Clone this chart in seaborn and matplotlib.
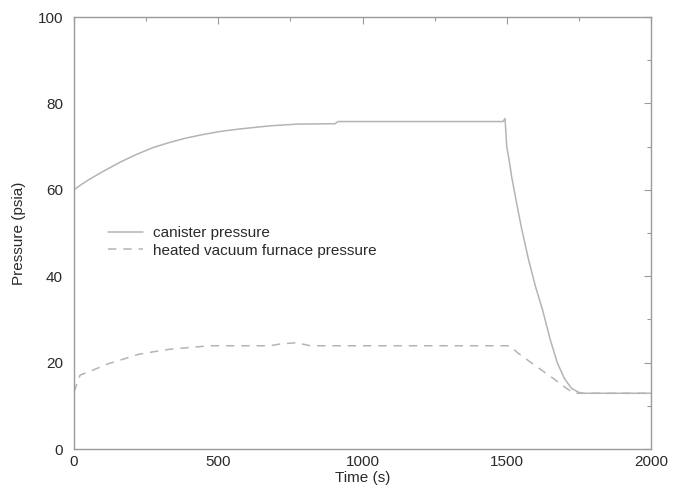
import matplotlib
matplotlib.use("Agg")
import matplotlib.pyplot as plt
import seaborn as sns
import pandas as pd
from matplotlib.ticker import MultipleLocator
from matplotlib.lines import Line2D

# ---- data ----
canister_time = [0, 25, 50, 102, 160, 217, 275, 333, 390, 448, 506, 564, 620, 679, 772,
                 905, 915, 1000, 1200, 1487, 1494, 1500, 1508, 1517, 1534, 1550, 1575,
                 1600, 1625, 1650, 1675, 1700, 1725, 1750, 1765, 2000]
canister_p = [60.0, 61.2, 62.3, 64.3, 66.4, 68.2, 69.8, 71.0, 72.0, 72.8, 73.5, 74.0,
              74.4, 74.8, 75.2, 75.3, 75.8, 75.8, 75.8, 75.8, 76.5, 70.0, 67.0, 63.0,
              57.0, 51.5, 44.0, 37.5, 32.0, 25.5, 20.0, 16.3, 14.0, 13.1, 12.9, 12.9]

furnace_time = [0, 15, 21, 67, 113, 171, 223, 275, 333, 437, 470, 680, 714, 772, 818,
                1511, 1539, 1603, 1660, 1708, 1730, 1750, 2000]
furnace_p = [13.2, 16.0, 17.1, 18.3, 19.6, 20.8, 21.9, 22.5, 23.1, 23.7, 23.9, 23.9,
             24.3, 24.6, 23.9, 23.9, 22.2, 19.1, 16.4, 14.0, 13.0, 12.9, 12.9]

series_names = ["canister pressure", "heated vacuum furnace pressure"]
x_ticks = [0, 500, 1000, 1500, 2000]
y_ticks = [0, 20, 40, 60, 80, 100]

df = pd.concat([
    pd.DataFrame({"t": canister_time, "p": canister_p, "series": series_names[0]}),
    pd.DataFrame({"t": furnace_time, "p": furnace_p, "series": series_names[1]}),
], ignore_index=True)

sns.set_style("white")
plt.rcParams["font.family"] = ["Liberation Sans", "DejaVu Sans"]

LINE = "#b4b4b4"
SPINE = "#9a9a9a"
TEXT = "#2a2a2a"

fig = plt.figure(figsize=(6.82, 4.90), dpi=100)
ax = fig.add_axes([74 / 682, 1 - 449 / 490, 577 / 682, 432 / 490])

sns.lineplot(data=df, x="t", y="p", hue="series", style="series",
             palette={series_names[0]: LINE, series_names[1]: LINE},
             dashes={series_names[0]: "", series_names[1]: (5.5, 4.5)},
             linewidth=1.1, sort=False, estimator=None, ax=ax, legend=False)

ax.set_xlim(x_ticks[0], x_ticks[-1])
ax.set_ylim(y_ticks[0], y_ticks[-1])
ax.set_xticks(x_ticks)
ax.set_yticks(y_ticks)
ax.xaxis.set_minor_locator(MultipleLocator(250))
ax.yaxis.set_minor_locator(MultipleLocator(10))
ax.tick_params(which="both", direction="in", top=True, right=True, color=SPINE,
               labelsize=11, labelcolor=TEXT)
ax.tick_params(which="major", length=5, width=0.8)
ax.tick_params(which="minor", length=3, width=0.8)
ax.tick_params(axis="y", which="major", pad=8)
ax.tick_params(axis="x", which="major", pad=4)
for s in ax.spines.values():
    s.set_color(SPINE)
    s.set_linewidth(1.0)

ax.set_xlabel("Time (s)", fontsize=11, color=TEXT, labelpad=1.5)
ax.set_ylabel("Pressure (psia)", fontsize=11, color=TEXT, labelpad=8)

handles = [Line2D([], [], color=LINE, lw=1.1),
           Line2D([], [], color=LINE, lw=1.1, dashes=(5.5, 4.5))]
leg = ax.legend(handles, series_names, loc="center left",
                bbox_to_anchor=((108 - 74) / 577, (449 - 242) / 432),
                frameon=False, fontsize=11, handlelength=2.3, handletextpad=0.65,
                labelspacing=0.2, borderpad=0, borderaxespad=0)
for t in leg.get_texts():
    t.set_color(TEXT)

fig.savefig("out.png", dpi=100, facecolor="white")
